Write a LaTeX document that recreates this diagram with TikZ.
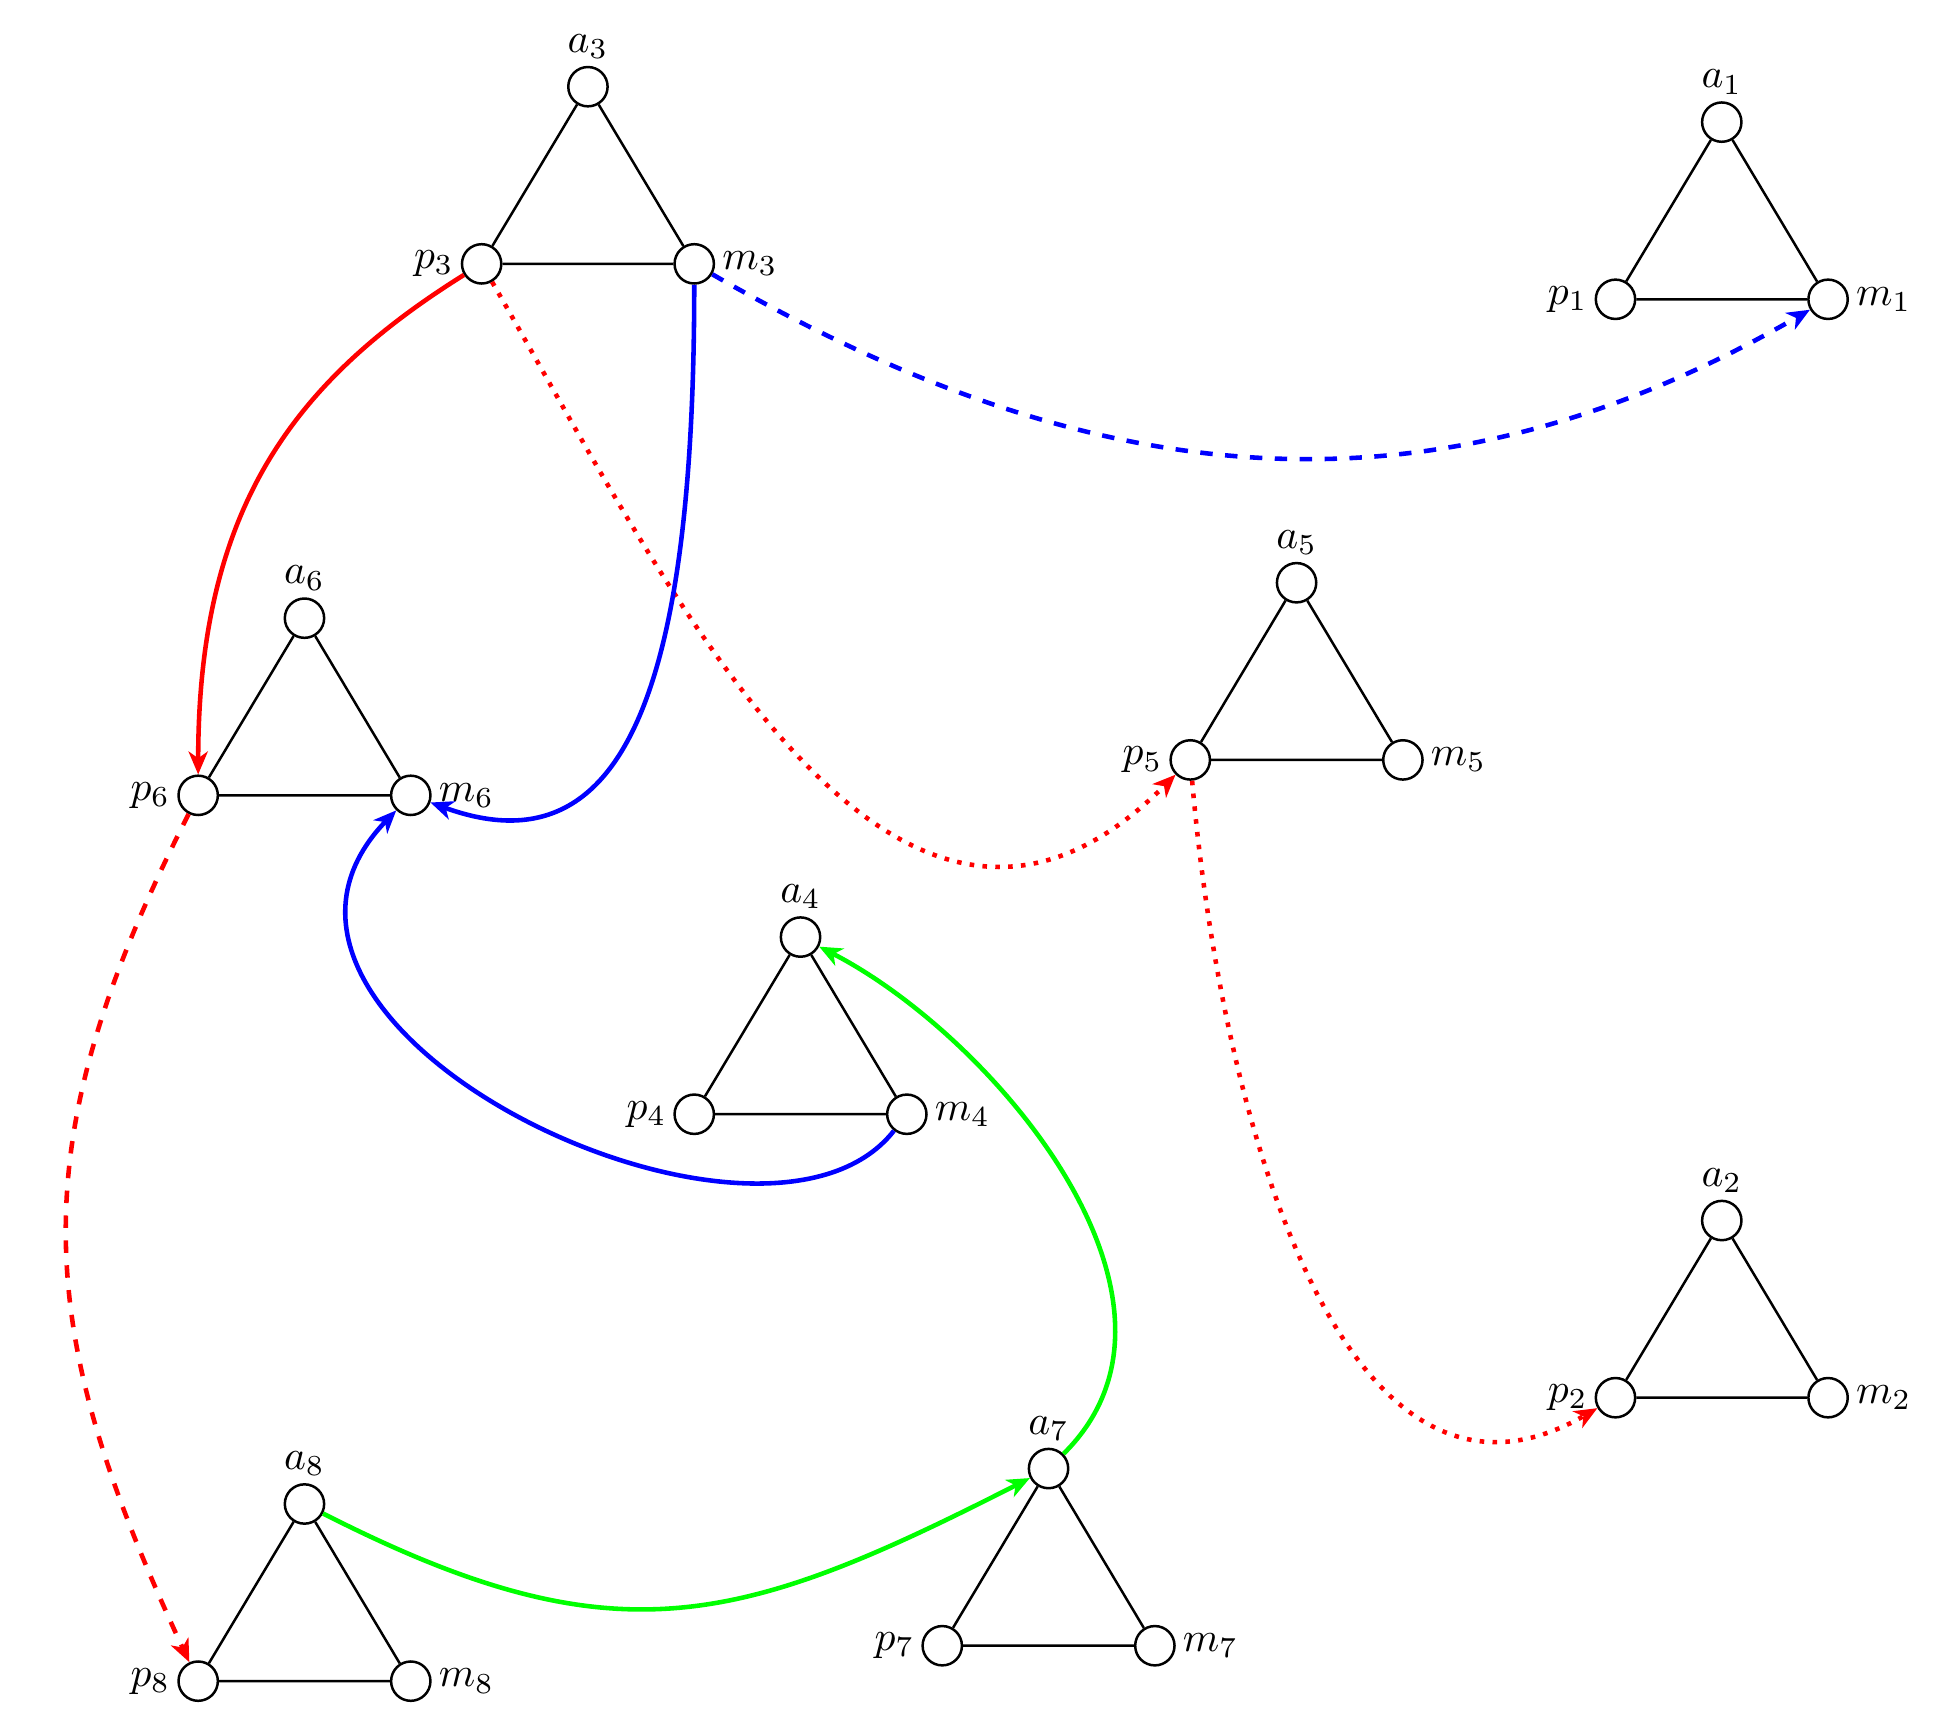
\documentclass[tikz,border=0pt]{standalone}
\usetikzlibrary{arrows.meta}
\begin{document}
\begin{tikzpicture}[
  label distance=-1.8pt,
  vtx/.style={draw, circle, semithick, inner sep=0pt, minimum size=3.33mm},
  edgeline/.style={semithick},
  link/.style={line width=1.1pt, -{Stealth[length=5.5pt,width=4.6pt,inset=1.6pt]}},
]
\useasboundingbox (-4.978,-13.913) rectangle (11.507,0.734);

% one triangle: apex a, bottom-left p, bottom-right m
\newcommand\triad[3]{%
  \node[vtx, label=above:$a_{#1}$] (a#1) at (#2,#3) {};
  \node[vtx, label=left:$p_{#1}$]  (p#1) at (#2-0.9,#3-1.5) {};
  \node[vtx, label=right:$m_{#1}$] (m#1) at (#2+0.9,#3-1.5) {};
  \draw[edgeline] (a#1) -- (p#1) -- (m#1) -- (a#1);
}

\triad{1}{9.6}{-0.3}
\triad{2}{9.6}{-9.6}
\triad{3}{0}{0}
\triad{4}{1.8}{-7.2}
\triad{5}{6.0}{-4.2}
\triad{6}{-2.4}{-4.5}
\triad{7}{3.9}{-11.7}
\triad{8}{-2.4}{-12.0}

% connectors
\draw[link, red] (p3) .. controls +(212:1.89) and +(90:2.42) .. (p6);
\draw[link, red, dotted] (p3) .. controls +(-60:3.15) and +(225:3.57) .. (p5);
\draw[link, blue] (m3) .. controls +(-90:3.68) and +(-20:1.89) .. (m6);
\draw[link, blue, dashed] (m3) .. controls +(-30:3.9) and +(210:3.9) .. (m1);
\draw[link, red, dashed] (p6) .. controls +(-117:3.36) and +(115:3.3) .. (p8);
\draw[link, blue] (m4) .. controls +(-128:2.0) and +(226:2.7) .. (m6);
\draw[link, red, dotted] (p5) .. controls +(-85:3.15) and +(210:2.63) .. (p2);
\draw[link, green] (a8) .. controls +(-27:2.95) and +(207:2.95) .. (a7);
\draw[link, green] (a7) .. controls +(44.6:2.01) and +(-27.2:1.84) .. (a4);
\end{tikzpicture}
\end{document}
